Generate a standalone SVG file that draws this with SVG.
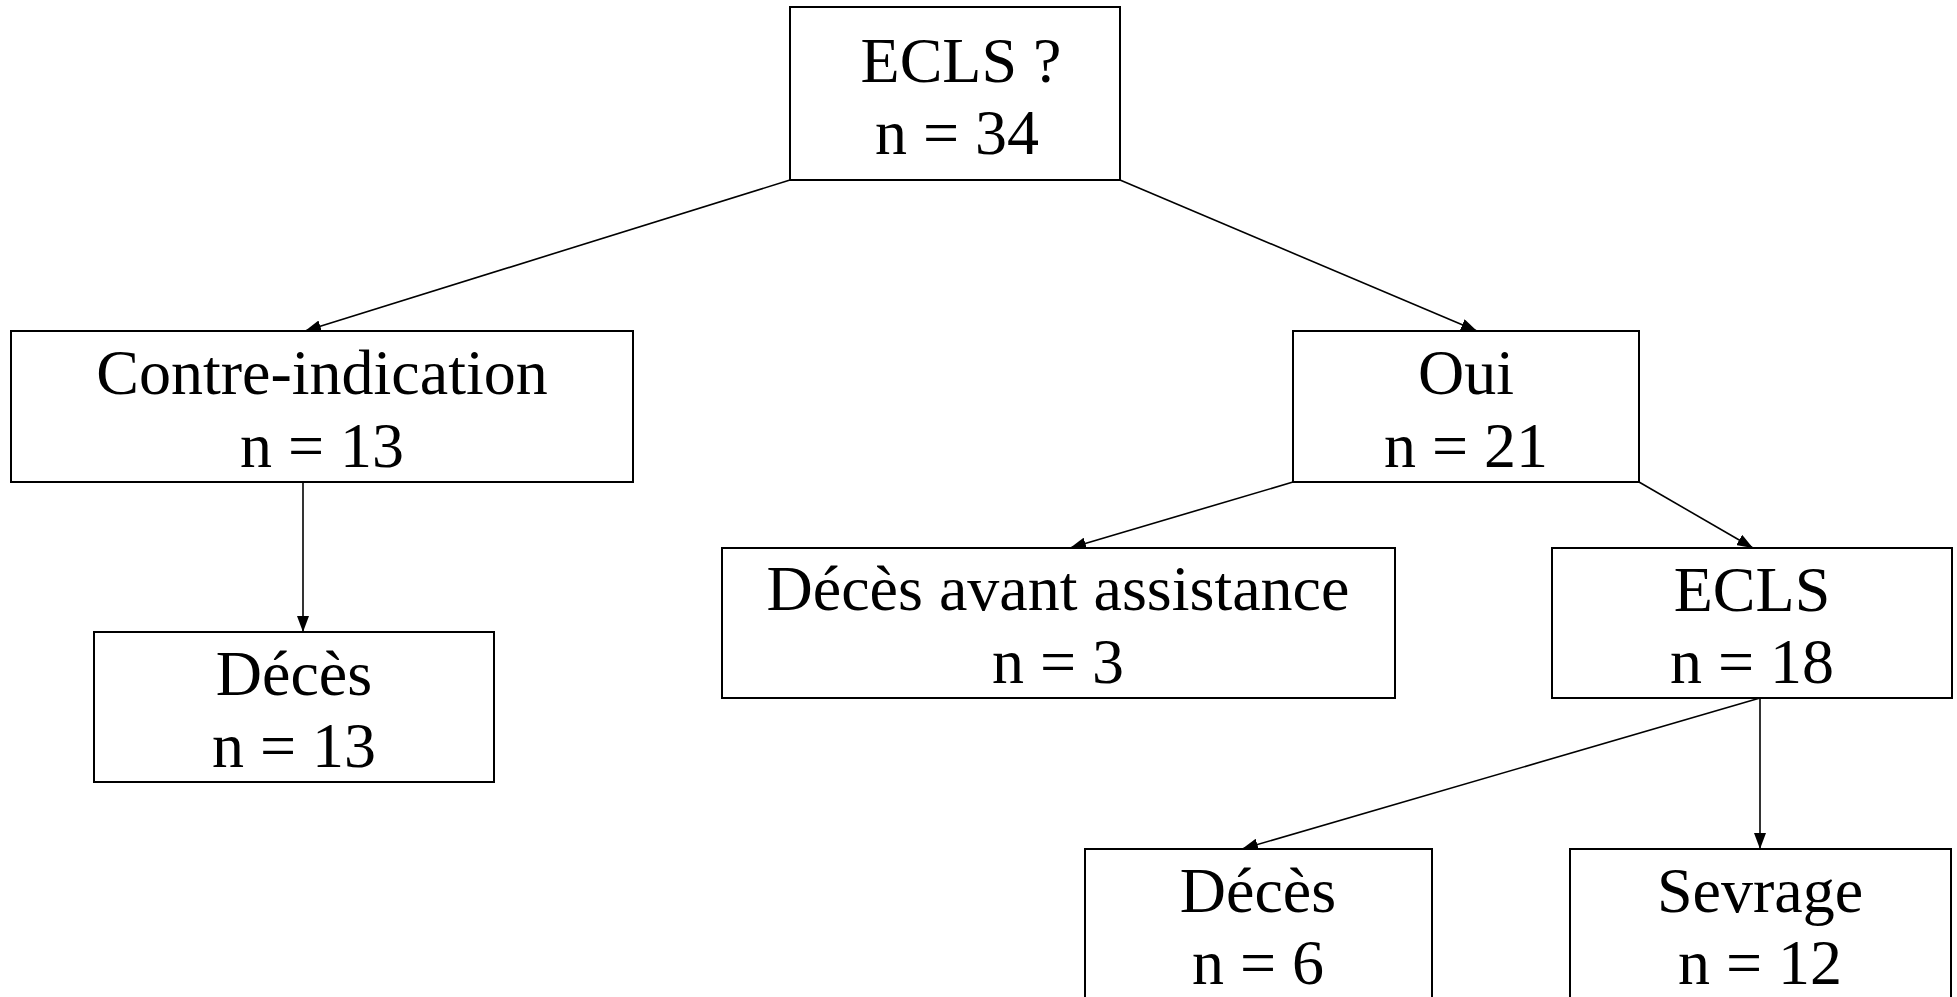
<svg xmlns="http://www.w3.org/2000/svg" width="1957" height="997" viewBox="0 0 1957 997">
  <defs>
    <marker id="arrow" viewBox="0 0 16 12" refX="16" refY="6" markerWidth="16" markerHeight="12" markerUnits="userSpaceOnUse" orient="auto">
      <path d="M0,0 L16,6 L0,12 Z" fill="#000"/>
    </marker>
    <style>
      .box { fill: #fff; stroke: #000; stroke-width: 2; }
      .lbl { font-family: "Liberation Serif", "Times New Roman", serif; font-size: 64px; fill: #000; text-anchor: middle; }
      .edge { fill: none; stroke: #000; stroke-width: 1.6; marker-end: url(#arrow); }
    </style>
  </defs>
  <rect width="1957" height="997" fill="#fff"/>

  <g id="connectors">
    <line class="edge" x1="790" y1="180" x2="305" y2="331"/>
    <line class="edge" x1="1120" y1="180" x2="1477" y2="331"/>
    <line class="edge" x1="303" y1="482" x2="303" y2="632"/>
    <line class="edge" x1="1293" y1="482" x2="1070" y2="548"/>
    <line class="edge" x1="1639" y1="482" x2="1753" y2="548"/>
    <line class="edge" x1="1760" y1="698" x2="1242" y2="849"/>
    <line class="edge" x1="1760" y1="698" x2="1760" y2="849"/>
  </g>

  <g id="ecls-question">
    <rect class="box" x="790" y="7" width="330" height="173"/>
    <text class="lbl" x="961" y="82">ECLS ?</text>
    <text class="lbl" x="957" y="154">n = 34</text>
  </g>

  <g id="contre-indication">
    <rect class="box" x="11" y="331" width="622" height="151"/>
    <text class="lbl" x="322" y="394">Contre-indication</text>
    <text class="lbl" x="322" y="467">n = 13</text>
  </g>

  <g id="oui">
    <rect class="box" x="1293" y="331" width="346" height="151"/>
    <text class="lbl" x="1466" y="394">Oui</text>
    <text class="lbl" x="1466" y="467">n = 21</text>
  </g>

  <g id="deces-ci">
    <rect class="box" x="94" y="632" width="400" height="150"/>
    <text class="lbl" x="294" y="695">Décès</text>
    <text class="lbl" x="294" y="767">n = 13</text>
  </g>

  <g id="deces-avant-assistance">
    <rect class="box" x="722" y="548" width="673" height="150"/>
    <text class="lbl" x="1058" y="610">Décès avant assistance</text>
    <text class="lbl" x="1058" y="683">n = 3</text>
  </g>

  <g id="ecls">
    <rect class="box" x="1552" y="548" width="400" height="150"/>
    <text class="lbl" x="1752" y="611">ECLS</text>
    <text class="lbl" x="1752" y="683">n = 18</text>
  </g>

  <g id="deces-ecls">
    <rect class="box" x="1085" y="849" width="347" height="152"/>
    <text class="lbl" x="1258" y="912">Décès</text>
    <text class="lbl" x="1258" y="984">n = 6</text>
  </g>

  <g id="sevrage">
    <rect class="box" x="1570" y="849" width="381" height="152"/>
    <text class="lbl" x="1760" y="912">Sevrage</text>
    <text class="lbl" x="1760" y="984">n = 12</text>
  </g>
</svg>
